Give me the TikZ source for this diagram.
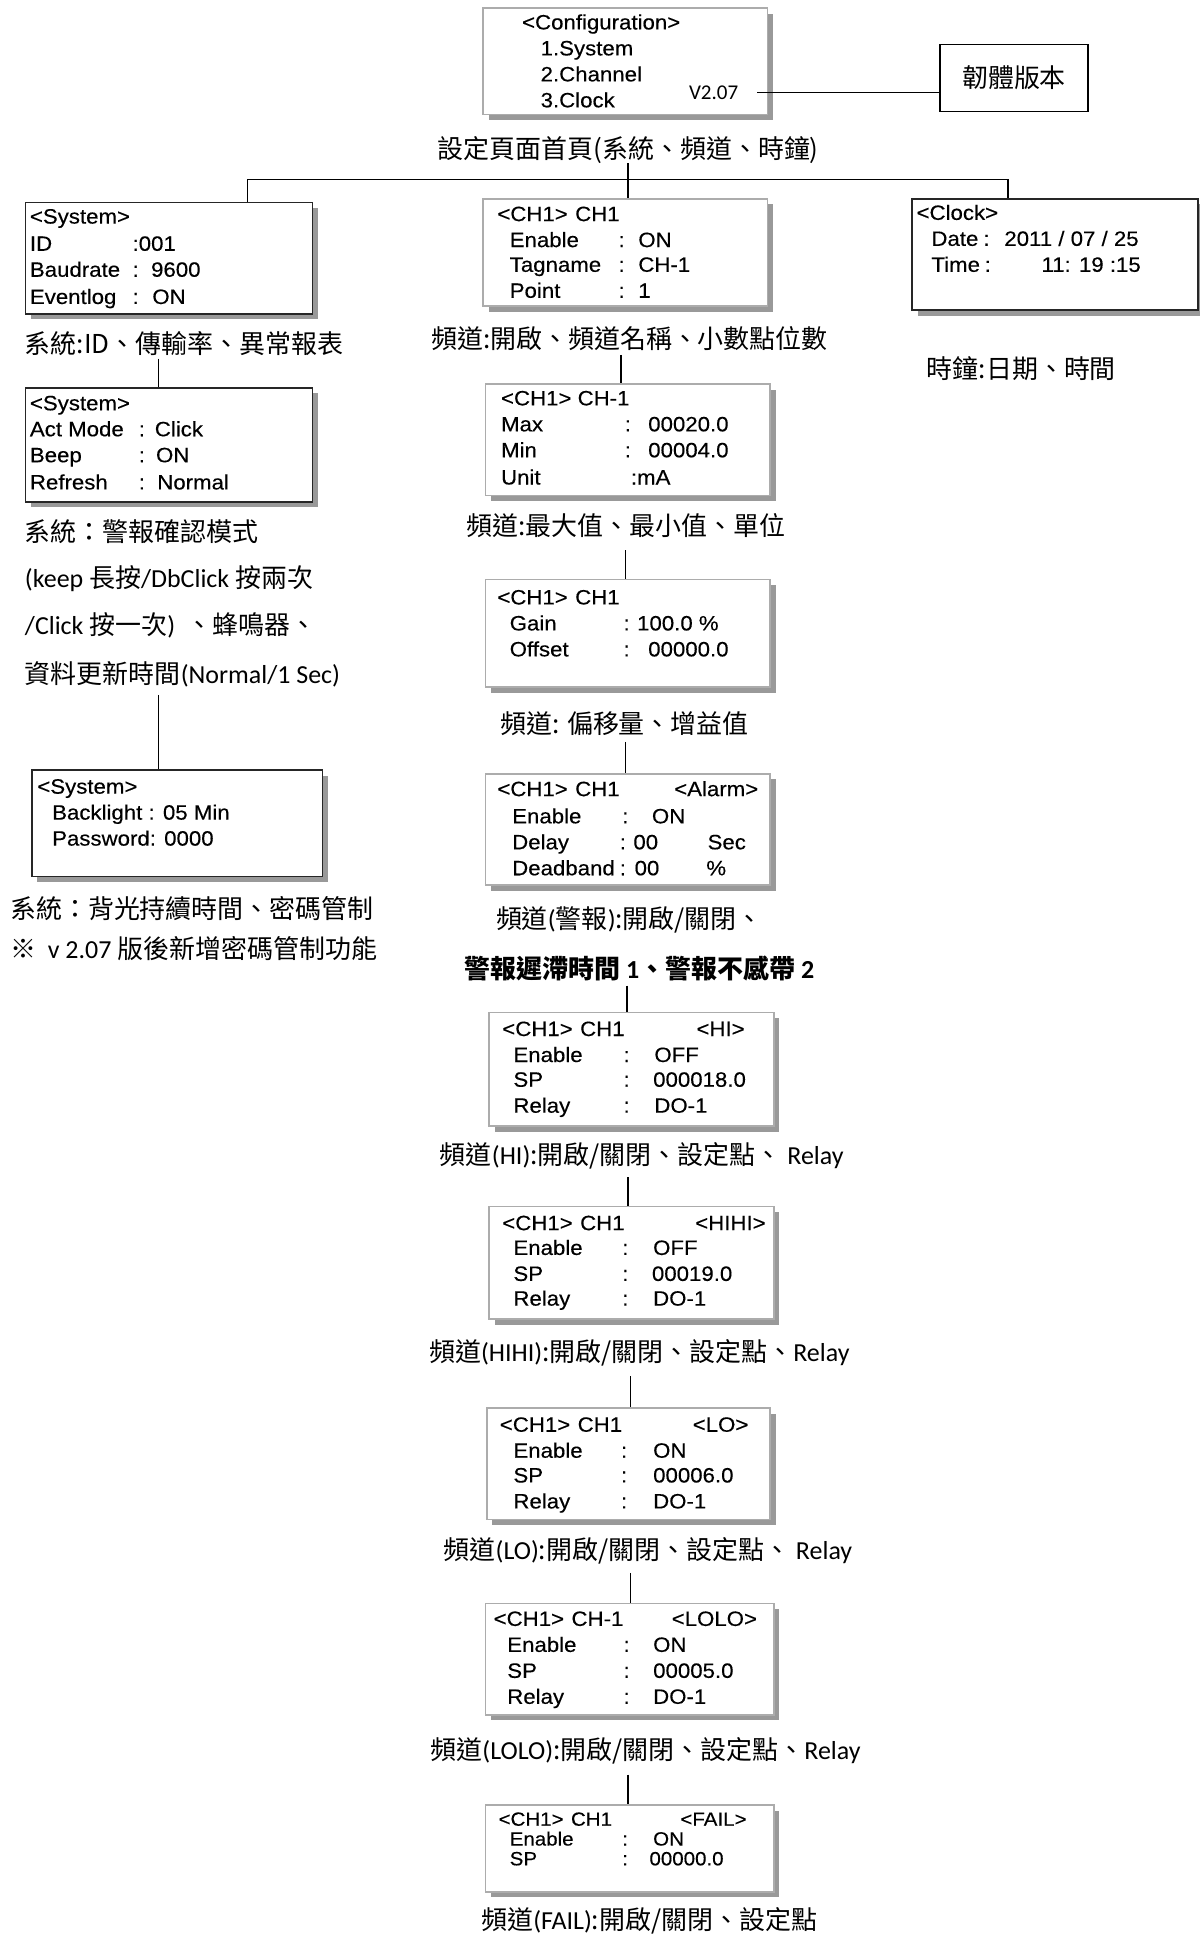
\documentclass[tikz,border=0pt]{standalone}
\usepackage{fontspec}
\setmainfont{Carlito}
\newfontfamily\cj{Noto Sans CJK TC}
\newfontfamily\lcd[FakeStretch=1.07,FakeBold=0.3]{Liberation Sans}
\usetikzlibrary{shadows}
\tikzset{
  lcdbox/.style={draw=gray!65, line width=1.4pt, fill=white, inner sep=0pt,
    drop shadow={shadow xshift=4.5pt, shadow yshift=-4.5pt, fill=gray!80, opacity=1}},
  dk/.style={draw=black!85},
  lcdt/.style={anchor=base west, inner sep=0pt, font=\lcd\fontsize{16.8}{18}\selectfont, text=black},
  lcds/.style={lcdt, font=\lcd\fontsize{15.5}{16}\selectfont},
  captxt/.style={inner sep=0pt, font=\fontsize{21}{25}\selectfont},
  captw/.style={captxt, anchor=west},
  conn/.style={draw=black, line width=1.2pt},
}
\newcommand\lcdbx[6]{\node[lcdbox,#6,minimum width={(#4-#2)*1pt}, minimum height={(#5-#3)*1pt}, anchor=north west] (#1) at (#2,#3) {};}
\newcommand\lcdline[4]{\node[lcdt] (#1) at (#2,{#3+5.8}) {#4};}
\newcommand\lcdsline[4]{\node[lcds] (#1) at (#2,{#3+5.4}) {#4};}
\newcommand\colval[2]{\makebox[#1pt][l]{:}#2}
\begin{document}
\begin{tikzpicture}[x=1pt,y=-1pt]
\useasboundingbox (0,0) rectangle (970,1568);
\fill[white] (0,0) rectangle (970,1568);

% ---------- Configuration ----------
\lcdbx{cfg}{390}{6}{620}{92}{}
\lcdline{cfg1}{422}{18}{<Configuration>}
\lcdline{cfg2}{437}{39}{1.System}
\lcdline{cfg3}{437}{60}{2.Channel}
\lcdline{cfg4}{437}{81}{3.Clock}
\node[inner sep=0pt, anchor=west, font=\fontsize{17}{19}\selectfont] (v207) at (557,75) {V2.07};
\node[draw=black, line width=1.2pt, minimum width=120pt, minimum height=54pt, inner sep=0pt,
      font=\cj\fontsize{21}{25}\selectfont] (fw) at (820,63) {韌體版本};
\draw[conn] ([xshift=15pt]v207.east) -- (v207.east -| fw.west);
\node[captxt] (cap0) at (508,121) {\cj 設定頁面首頁(系統、頻道、時鐘)};

% ---------- System column ----------
\lcdbx{S1}{20}{163}{252}{253}{dk}
\lcdline{s1a}{24}{175}{<System>}
\lcdline{s1b}{24}{197}{ID}
\lcdline{s1bv}{107}{197}{:001}
\lcdline{s1c}{24}{218}{Baudrate}
\lcdline{s1cv}{107}{218}{\colval{15}{9600}}
\lcdline{s1d}{24}{240}{Eventlog}
\lcdline{s1dv}{107}{240}{\colval{16}{ON}}
\node[captw] (capS1) at (20,278) {\cj 系統:ID、傳輸率、異常報表};

\lcdbx{S2}{20}{313}{252}{405}{dk}
\lcdline{s2a}{24}{326}{<System>}
\lcdline{s2b}{24}{347}{Act Mode}
\lcdline{s2bv}{112}{347}{\colval{13}{Click}}
\lcdline{s2c}{24}{368}{Beep}
\lcdline{s2cv}{112}{368}{\colval{14}{ON}}
\lcdline{s2d}{24}{390}{Refresh}
\lcdline{s2dv}{112}{390}{\colval{15}{Normal}}
\node[captw] (capS2a) at (20,430) {\cj 系統：警報確認模式};
\node[captw] (capS2b) at (20,468) {(keep {\cj 長按}/DbClick {\cj 按兩次}};
\node[captw] (capS2c) at (20,506) {/Click {\cj 按一次})\ \ {\cj 、蜂鳴器、}};
\node[captw] (capS2d) at (20,545) {{\cj 資料更新時間}(Normal/1 Sec)};

\lcdbx{S3}{25}{622}{260}{708}{dk}
\lcdline{s3a}{30}{636}{<System>}
\lcdline{s3b}{42}{657}{Backlight : 05 Min}
\lcdline{s3c}{42}{678}{Password: 0000}
\node[captw] (capS3a) at (8,735) {\cj 系統：背光持續時間、密碼管制};
\node[captw] (capS3b) at (8,767) {{\cj ※}\ \ v 2.07 {\cj 版後新增密碼管制功能}};

% ---------- Clock ----------
\lcdbx{K}{737}{160}{968}{250}{dk}
\lcdline{ka}{741}{172}{<Clock>}
\lcdline{kb}{753}{193}{Date}
\lcdline{kbv}{795}{193}{\colval{17}{2011 / 07 / 25}}
\lcdline{kc}{753}{214}{Time}
\lcdline{kcv}{796}{214}{\colval{46}{11: 19 :15}}
\node[captxt] (capK) at (826,298) {\cj 時鐘:日期、時間};

% ---------- Channel column ----------
\lcdbx{C1}{390}{160}{620}{247}{}
\lcdline{c1a}{402}{173}{<CH1>\hspace{6pt}CH1}
\lcdline{c1b}{412}{194}{Enable}
\lcdline{c1bv}{500}{194}{\colval{16}{ON}}
\lcdline{c1c}{412}{214}{Tagname}
\lcdline{c1cv}{500}{214}{\colval{16}{CH-1}}
\lcdline{c1d}{412}{235}{Point}
\lcdline{c1dv}{500}{235}{\colval{16}{1}}
\node[captxt] (capC1) at (509,274) {\cj 頻道:開啟、頻道名稱、小數點位數};

\lcdbx{C2}{392}{310}{622}{400}{}
\lcdline{c2a}{405}{322}{<CH1> CH-1}
\lcdline{c2b}{405}{343}{Max}
\lcdline{c2bv}{505}{343}{\colval{19}{00020.0}}
\lcdline{c2c}{405}{364}{Min}
\lcdline{c2cv}{505}{364}{\colval{19}{00004.0}}
\lcdline{c2d}{405}{386}{Unit}
\lcdline{c2dv}{510}{386}{:mA}
\node[captxt] (capC2) at (506,425) {\cj 頻道:最大值、最小值、單位};

\lcdbx{C3}{392}{468}{622}{555}{}
\lcdline{c3a}{402}{483}{<CH1>\hspace{6pt}CH1}
\lcdline{c3b}{412}{504}{Gain}
\lcdline{c3bv}{504}{504}{\colval{11}{100.0 \%}}
\lcdline{c3c}{412}{525}{Offset}
\lcdline{c3cv}{504}{525}{\colval{20}{00000.0}}
\node[captxt] (capC3) at (505,585) {\cj 頻道: 偏移量、增益值};

\lcdbx{C4}{392}{625}{622}{715}{}
\lcdline{c4a}{402}{638}{<CH1>\hspace{6pt}CH1}
\lcdline{c4ar}{545}{638}{<Alarm>}
\lcdline{c4b}{414}{660}{Enable}
\lcdline{c4bv}{503}{660}{\colval{24}{ON}}
\lcdline{c4c}{414}{681}{Delay}
\lcdline{c4cv}{501}{681}{\colval{11}{00}}
\lcdline{c4cr}{572}{681}{Sec}
\lcdline{c4d}{414}{702}{Deadband}
\lcdline{c4dv}{501}{702}{\colval{12}{00}}
\lcdline{c4dr}{571}{702}{\%}
\node[captxt] (capC4a) at (509,744) {{\cj 頻道}({\cj 警報}){\cj :開啟/關閉、}};
\node[captxt] (capC4b) at (517,783) {{\cj\bfseries 警報遲滯時間} \textbf{1}{\cj\bfseries 、警報不感帶} \textbf{2}};

\lcdbx{H1}{395}{818}{625}{910}{}
\lcdline{h1a}{406}{832}{<CH1>\hspace{6pt}CH1}
\lcdline{h1ar}{563}{832}{<HI>}
\lcdline{h1b}{415}{853}{Enable}
\lcdline{h1bv}{504}{853}{\colval{25}{OFF}}
\lcdline{h1c}{415}{873}{SP}
\lcdline{h1cv}{504}{873}{\colval{24}{000018.0}}
\lcdline{h1d}{415}{894}{Relay}
\lcdline{h1dv}{504}{894}{\colval{25}{DO-1}}
\node[captxt] (capH1) at (519,935) {{\cj 頻道}(HI){\cj :開啟/關閉、設定點、} Relay};

\lcdbx{H2}{395}{975}{625}{1066}{}
\lcdline{h2a}{406}{989}{<CH1>\hspace{6pt}CH1}
\lcdline{h2ar}{562}{989}{<HIHI>}
\lcdline{h2b}{415}{1009}{Enable}
\lcdline{h2bv}{503}{1009}{\colval{25}{OFF}}
\lcdline{h2c}{415}{1030}{SP}
\lcdline{h2cv}{503}{1030}{\colval{24}{00019.0}}
\lcdline{h2d}{415}{1050}{Relay}
\lcdline{h2dv}{503}{1050}{\colval{25}{DO-1}}
\node[captxt] (capH2) at (517,1094) {{\cj 頻道}(HIHI){\cj :開啟/關閉、設定點、}Relay};

\lcdbx{L1}{393}{1138}{622}{1228}{}
\lcdline{l1a}{404}{1152}{<CH1>\hspace{6pt}CH1}
\lcdline{l1ar}{560}{1152}{<LO>}
\lcdline{l1b}{415}{1173}{Enable}
\lcdline{l1bv}{502}{1173}{\colval{26}{ON}}
\lcdline{l1c}{415}{1193}{SP}
\lcdline{l1cv}{502}{1193}{\colval{26}{00006.0}}
\lcdline{l1d}{415}{1214}{Relay}
\lcdline{l1dv}{502}{1214}{\colval{26}{DO-1}}
\node[captxt] (capL1) at (524,1254) {{\cj 頻道}(LO){\cj :開啟/關閉、設定點、} Relay};

\lcdbx{L2}{392}{1296}{625}{1386}{}
\lcdline{l2a}{399}{1309}{<CH1>\hspace{6pt}CH-1}
\lcdline{l2ar}{543}{1309}{<LOLO>}
\lcdline{l2b}{410}{1330}{Enable}
\lcdline{l2bv}{504}{1330}{\colval{24}{ON}}
\lcdline{l2c}{410}{1351}{SP}
\lcdline{l2cv}{504}{1351}{\colval{24}{00005.0}}
\lcdline{l2d}{410}{1372}{Relay}
\lcdline{l2dv}{504}{1372}{\colval{24}{DO-1}}
\node[captxt] (capL2) at (522,1416) {{\cj 頻道}(LOLO){\cj :開啟/關閉、設定點、}Relay};

\lcdbx{F1}{392}{1459}{625}{1529}{}
\lcdsline{f1a}{403}{1471}{<CH1>\hspace{6pt}CH1}
\lcdsline{f1ar}{550}{1471}{<FAIL>}
\lcdsline{f1b}{412}{1487}{Enable}
\lcdsline{f1bv}{503}{1487}{\colval{25}{ON}}
\lcdsline{f1c}{412}{1503}{SP}
\lcdsline{f1cv}{503}{1503}{\colval{22}{00000.0}}
\node[captxt] (capF1) at (525,1553) {{\cj 頻道}(FAIL){\cj :開啟/關閉、設定點}};

% ---------- connectors ----------
\coordinate (busL) at (200,145);
\coordinate (busM) at (508,145);
\coordinate (busR) at (815,145);
\draw[conn] (cap0.south -| busM) -- (busM);
\draw[conn] (busL |- S1.north) -- (busL) -- (busR) -- (busR |- K.north);
\draw[conn] (busM) -- (busM |- C1.north);

\coordinate (t1) at (128,290);  \draw[conn] (t1) -- (t1 |- S2.north);
\coordinate (t2) at (128,562);  \draw[conn] (t2) -- (t2 |- S3.north);
\coordinate (t3) at (502,287);  \draw[conn] (t3) -- (t3 |- C2.north);
\coordinate (t4) at (506,445);  \draw[conn] (t4) -- (t4 |- C3.north);
\coordinate (t5) at (506,600);  \draw[conn] (t5) -- (t5 |- C4.north);
\coordinate (t6) at (507,797);  \draw[conn] (t6) -- (t6 |- H1.north);
\coordinate (t7) at (508,952);  \draw[conn] (t7) -- (t7 |- H2.north);
\coordinate (t8) at (510,1113); \draw[conn] (t8) -- (t8 |- L1.north);
\coordinate (t9) at (510,1272); \draw[conn] (t9) -- (t9 |- L2.north);
\coordinate (t10) at (508,1435); \draw[conn] (t10) -- (t10 |- F1.north);
\end{tikzpicture}
\end{document}
